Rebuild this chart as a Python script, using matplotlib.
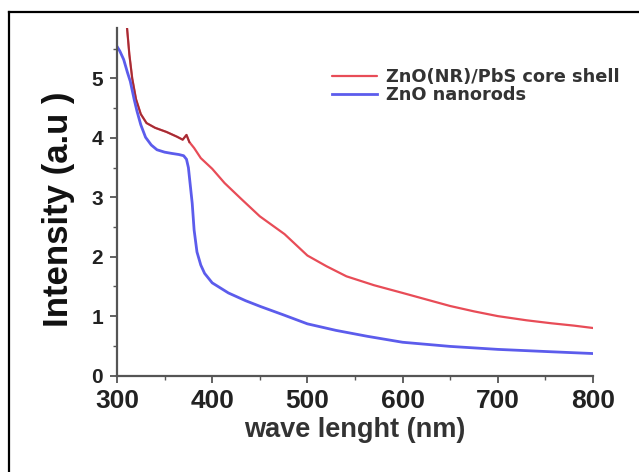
import matplotlib
matplotlib.use("Agg")
import matplotlib.pyplot as plt
from matplotlib.lines import Line2D
from matplotlib.ticker import MultipleLocator
import numpy as np

# Absorption spectra (wavelength in nm, intensity in a.u.)
core_shell_nm = [310, 313, 316, 320, 325, 331, 340, 352, 363, 369, 373, 376, 381,
                 388, 400, 413, 430, 450, 476, 500, 520, 541, 570, 600, 625, 650,
                 675, 700, 730, 756, 780, 800]
core_shell_int = [5.95, 5.40, 5.00, 4.65, 4.40, 4.25, 4.17, 4.10, 4.02, 3.97, 4.05,
                  3.93, 3.83, 3.66, 3.48, 3.24, 2.98, 2.68, 2.38, 2.02, 1.84, 1.67,
                  1.52, 1.39, 1.28, 1.17, 1.08, 1.00, 0.93, 0.88, 0.84, 0.80]

nanorods_nm = [300, 303, 307, 311, 314, 318, 321, 325, 330, 336, 342, 350, 357, 365,
               370, 373, 375, 377, 379, 381, 384, 388, 392, 400, 417, 435, 451, 475,
               500, 530, 563, 600, 650, 700, 756, 800]
nanorods_int = [5.54, 5.46, 5.32, 5.10, 4.95, 4.65, 4.45, 4.22, 4.01, 3.88, 3.80,
                3.76, 3.74, 3.72, 3.70, 3.64, 3.50, 3.20, 2.90, 2.45, 2.08, 1.86,
                1.72, 1.56, 1.39, 1.26, 1.16, 1.02, 0.87, 0.76, 0.66, 0.56, 0.49,
                0.44, 0.40, 0.37]

labels = ["ZnO(NR)/PbS core shell", "ZnO nanorods"]
x_ticks = [300, 400, 500, 600, 700, 800]
y_ticks = [0, 1, 2, 3, 4, 5]

RED = "#e84c57"
DARK_RED = "#8e2229"
BLUE = "#5c5cec"

plt.rcParams["font.family"] = ["Liberation Sans", "DejaVu Sans"]
plt.rcParams["font.weight"] = "bold"

fig = plt.figure(figsize=(6.39, 4.72), dpi=100)
ax = fig.add_axes([0.1831, 0.2044, 0.7449, 0.7363])

cs_x = np.array(core_shell_nm)
cs_y = np.array(core_shell_int)
ax.plot(cs_x, cs_y, color=RED, lw=1.6, label=labels[0], solid_capstyle="round")
# darker overlay on the short-wavelength shoulder
mask = cs_x <= 376
ax.plot(cs_x[mask], cs_y[mask], color=DARK_RED, lw=1.4, alpha=0.75)
ax.plot(nanorods_nm, nanorods_int, color=BLUE, lw=2.0, label=labels[1])

ax.set_xlim(300, 800)
ax.set_ylim(0, 5.85)
ax.set_xticks(x_ticks)
ax.set_yticks(y_ticks)
ax.xaxis.set_minor_locator(MultipleLocator(50))
ax.yaxis.set_minor_locator(MultipleLocator(0.5))

for side in ("top", "right"):
    ax.spines[side].set_visible(False)
for side in ("left", "bottom"):
    ax.spines[side].set_color("#555555")
    ax.spines[side].set_linewidth(1.6)

ax.tick_params(which="major", direction="out", length=5, width=1.3, color="#555555")
ax.tick_params(which="minor", direction="out", length=3, width=1.0, color="#555555")
ax.tick_params(axis="x", labelsize=19, pad=5, labelcolor="#222222")
ax.tick_params(axis="y", labelsize=15, pad=5, labelcolor="#222222")

ax.set_xlabel("wave lenght (nm)", fontsize=19.5, fontweight="bold", color="#333333")
ax.xaxis.set_label_coords(0.5, -0.118)
ax.set_ylabel("Intensity (a.u )", fontsize=25, fontweight="bold", color="#111111")
ax.yaxis.set_label_coords(-0.088, 0.479)

leg = ax.legend(loc="upper left", bbox_to_anchor=(332 / 639, 1 - 68 / 472),
                bbox_transform=fig.transFigure, frameon=False,
                prop={"family": "DejaVu Sans", "weight": "bold", "size": 12.8},
                handlelength=2.55, handletextpad=0.5, labelspacing=0.0,
                borderpad=0, borderaxespad=0)
for t in leg.get_texts():
    t.set_color("#333333")

# outer frame (left and top edges)
fig.add_artist(Line2D([9 / 639, 9 / 639], [0, 1 - 12 / 472],
                      transform=fig.transFigure, color="black", lw=1.6))
fig.add_artist(Line2D([9 / 639, 1], [1 - 12 / 472, 1 - 12 / 472],
                      transform=fig.transFigure, color="black", lw=1.6))

fig.savefig("out.png", dpi=100, facecolor="white")
